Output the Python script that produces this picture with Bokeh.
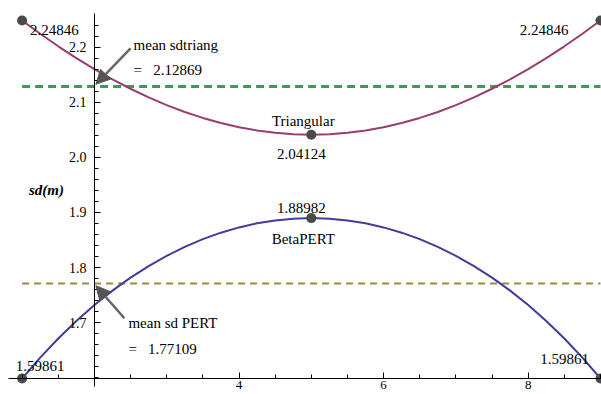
import numpy as np
from bokeh.plotting import figure
from bokeh.models import (Range1d, FixedTicker, NumeralTickFormatter, Arrow,
                          NormalHead, Label)
from bokeh.embed import file_html
from bokeh.resources import INLINE

# Standard deviation of a distribution on [0, 10] as a function of its mode m
m = [1.0, 1.25, 1.5, 1.75, 2.0, 2.25, 2.5, 2.75, 3.0, 3.25, 3.5, 3.75, 4.0, 4.25, 4.5, 4.75, 5.0,
     5.25, 5.5, 5.75, 6.0, 6.25, 6.5, 6.75, 7.0, 7.25, 7.5, 7.75, 8.0, 8.25, 8.5, 8.75, 9.0]
sd_triangular = [2.24846, 2.22439, 2.20164, 2.18025, 2.16025, 2.14168, 2.12459, 2.10901,
                 2.09497, 2.08250, 2.07164, 2.06240, 2.05480, 2.04888, 2.04464, 2.04209,
                 2.04124,
                 2.04209, 2.04464, 2.04888, 2.05480, 2.06240, 2.07164, 2.08250, 2.09497,
                 2.10901, 2.12459, 2.14168, 2.16025, 2.18025, 2.20164, 2.22439, 2.24846]
sd_betapert = [1.59861, 1.63663, 1.67142, 1.70317, 1.73205, 1.75820, 1.78174, 1.80278,
               1.82139, 1.83766, 1.85164, 1.86339, 1.87295, 1.88035, 1.88562, 1.88877,
               1.88982,
               1.88877, 1.88562, 1.88035, 1.87295, 1.86339, 1.85164, 1.83766, 1.82139,
               1.80278, 1.78174, 1.75820, 1.73205, 1.70317, 1.67142, 1.63663, 1.59861]
mean_sd_triangular = 2.12869
mean_sd_betapert = 1.77109
y_ticks = [1.7, 1.8, 1.9, 2.0, 2.1, 2.2]
x_ticks = [4, 6, 8]

SERIF = "Liberation Serif"
TRI_COLOR = "#993d71"
PERT_COLOR = "#3f3d99"
POINT_COLOR = "#4a4a4a"
NBSP = "\u00a0"

p = figure(width=601, height=394, output_backend="svg", toolbar_location=None,
           x_range=Range1d(0.7012, 9.0138), y_range=Range1d(1.56969, 2.28475),
           min_border=0, outline_line_color=None)
p.grid.visible = False

# axes crossing inside the frame
p.yaxis.fixed_location = 2
p.xaxis.fixed_location = min(sd_betapert)
p.yaxis.bounds = (1.585, 2.261)
p.xaxis.bounds = (0.81, 9.2)
p.yaxis.ticker = FixedTicker(ticks=y_ticks, minor_ticks=list(np.round(np.arange(1.60, 2.245, 0.02), 2)))
p.xaxis.ticker = FixedTicker(ticks=x_ticks, minor_ticks=list(np.arange(1.0, 9.01, 0.5)))
p.yaxis.formatter = NumeralTickFormatter(format="0.0")
p.xaxis.formatter = NumeralTickFormatter(format="0")
for ax in (p.xaxis[0], p.yaxis[0]):
    ax.axis_line_color = "black"
    ax.major_tick_line_color = "black"
    ax.minor_tick_line_color = "black"
    ax.major_tick_in = 6
    ax.major_tick_out = 0
    ax.minor_tick_in = 4
    ax.minor_tick_out = 0
    ax.major_label_text_font = SERIF
    ax.major_label_text_color = "black"
p.yaxis.major_label_text_font_size = "14px"
p.xaxis.major_label_text_font_size = "13px"
p.yaxis.major_label_standoff = 8
p.xaxis.major_label_standoff = 2

# mean levels
p.line([m[0], m[-1]], [mean_sd_triangular] * 2, line_color="#3d9956",
       line_width=3, line_dash="8 5")
p.line([m[0], m[-1]], [mean_sd_betapert] * 2, line_color="#998b3d",
       line_width=2, line_dash="7 5")

# curves
p.line(m, sd_triangular, line_color=TRI_COLOR, line_width=2)
p.line(m, sd_betapert, line_color=PERT_COLOR, line_width=2)

# marked points: both ends and the middle
mid, last = len(m) // 2, len(m) - 1
idx = [0, mid, last]
p.scatter([m[i] for i in idx], [sd_triangular[i] for i in idx], size=10,
          fill_color=POINT_COLOR, line_color=None)
p.scatter([m[i] for i in idx], [sd_betapert[i] for i in idx], size=10,
          fill_color=POINT_COLOR, line_color=None)


def txt(x, y, s, align="center", dx=0, dy=0):
    # dx, dy: screen offsets in pixels, dy positive downwards
    p.add_layout(Label(x=x, y=y, text=s, text_font=SERIF, text_font_size="15px",
                       text_align=align, text_baseline="middle",
                       x_offset=dx, y_offset=-dy, text_color="black"))


fmt = "{:.5f}"
txt(m[0], sd_triangular[0], fmt.format(sd_triangular[0]), "left", 8, 10)
txt(m[last], sd_triangular[last], fmt.format(sd_triangular[last]), "right", -32, 10)
txt(m[mid], sd_triangular[mid], "Triangular", "center", -8, -14)
txt(m[mid], sd_triangular[mid], fmt.format(sd_triangular[mid]), "center", -10, 19)
txt(m[mid], sd_betapert[mid], fmt.format(sd_betapert[mid]), "center", -10, -10)
txt(m[mid], sd_betapert[mid], "BetaPERT", "center", -8, 21)
txt(m[0], sd_betapert[0], fmt.format(sd_betapert[0]), "center", 18, -13)
txt(m[last], sd_betapert[last], fmt.format(sd_betapert[last]), "center", -36, -20)

# arrows marking the mean levels on the vertical axis
tri_tail = (2.5, mean_sd_triangular + 0.069)
pert_tail = (2.415, mean_sd_betapert - 0.063)
p.add_layout(Arrow(end=NormalHead(size=14, fill_color="#555555", line_color="#555555"),
                   x_start=tri_tail[0], y_start=tri_tail[1],
                   x_end=2.02, y_end=mean_sd_triangular + 0.004,
                   line_color="#666666", line_width=2.5))
p.add_layout(Arrow(end=NormalHead(size=14, fill_color="#555555", line_color="#555555"),
                   x_start=pert_tail[0], y_start=pert_tail[1],
                   x_end=2.02, y_end=mean_sd_betapert - 0.004,
                   line_color="#666666", line_width=2.5))

txt(tri_tail[0], tri_tail[1], "mean sdtriang", "left", 3, -3)
txt(tri_tail[0], tri_tail[1], "=" + NBSP * 3 + fmt.format(mean_sd_triangular), "left", 3, 22)
txt(pert_tail[0], pert_tail[1], "mean sd PERT", "left", 4, 5)
txt(pert_tail[0], pert_tail[1], "=" + NBSP * 3 + fmt.format(mean_sd_betapert), "left", 4, 31)

p.add_layout(Label(x=46, y=394 - 189, x_units="screen", y_units="screen",
                   text="sd(m)", text_font=SERIF, text_font_size="15px",
                   text_font_style="bold italic", text_align="center",
                   text_baseline="middle", text_color="black"))

open("out.html", "w").write(file_html(p, INLINE))
